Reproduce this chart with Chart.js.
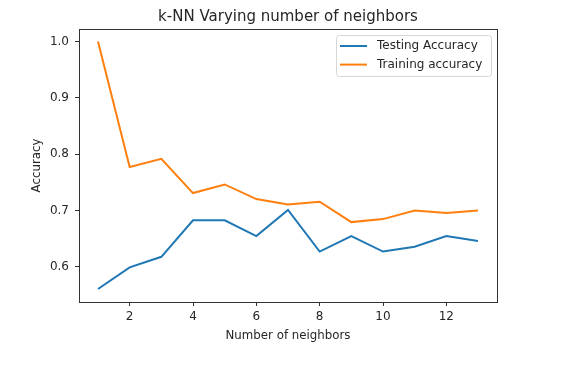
<!DOCTYPE html>
<html>
<head>
<meta charset="utf-8">
<script src="https://cdn.jsdelivr.net/npm/chart.js@4/dist/chart.umd.min.js"></script>
<style>
  html, body { margin: 0; padding: 0; background: #fff; }
  #wrap { width: 570px; height: 368px; }
</style>
</head>
<body>
<div id="wrap"><canvas id="knnChart" width="570" height="368"></canvas></div>
<script>
const neighbors = [1, 2, 3, 4, 5, 6, 7, 8, 9, 10, 11, 12, 13];
const testAcc = [0.5605, 0.5990, 0.6177, 0.6825, 0.6825, 0.6544, 0.7010, 0.6270, 0.6544, 0.6270, 0.6357, 0.6544, 0.6456];
const trainAcc = [1.0, 0.7770, 0.7917, 0.7308, 0.7461, 0.7202, 0.7106, 0.7154, 0.6793, 0.6846, 0.7000, 0.6953, 0.7000];
const xTicks = [2, 4, 6, 8, 10, 12];
const yTicks = [0.6, 0.7, 0.8, 0.9, 1.0];

const FONT = "'DejaVu Sans', sans-serif";
const TEXT = "#262626";

// spines, title and the in-axes legend
const frame = {
  id: "frame",
  afterDraw(chart) {
    const ctx = chart.ctx;
    const a = chart.chartArea;
    ctx.save();
    ctx.strokeStyle = "#333";
    ctx.lineWidth = 1;
    ctx.strokeRect(Math.round(a.left) + 0.5, Math.round(a.top) + 0.5,
      Math.round(a.right - a.left), Math.round(a.bottom - a.top));

    ctx.fillStyle = TEXT;
    ctx.font = "15px " + FONT;
    ctx.textAlign = "center";
    ctx.textBaseline = "middle";
    ctx.fillText("k-NN Varying number of neighbors", (a.left + a.right) / 2, 17);

    // legend
    const bx = 336, by = 35, bw = 155, bh = 41;
    ctx.fillStyle = "rgba(255,255,255,0.8)";
    ctx.strokeStyle = "#d6d6d6";
    ctx.beginPath();
    ctx.roundRect(bx + 0.5, by + 0.5, bw, bh, 3);
    ctx.fill();
    ctx.stroke();
    ctx.font = "12px " + FONT;
    ctx.textAlign = "left";
    chart.data.datasets.forEach((ds, i) => {
      const y = by + 11 + i * 18.6;
      ctx.strokeStyle = ds.borderColor;
      ctx.lineWidth = 2;
      ctx.beginPath();
      ctx.moveTo(340, y);
      ctx.lineTo(367, y);
      ctx.stroke();
      ctx.fillStyle = TEXT;
      ctx.fillText(ds.label, 377, y);
    });
    ctx.restore();
  }
};

new Chart(document.getElementById("knnChart"), {
  type: "line",
  data: {
    datasets: [
      {
        label: "Testing Accuracy",
        data: neighbors.map((k, i) => ({ x: k, y: testAcc[i] })),
        borderColor: "#1f77b4",
        borderWidth: 2,
        pointRadius: 0,
        tension: 0
      },
      {
        label: "Training accuracy",
        data: neighbors.map((k, i) => ({ x: k, y: trainAcc[i] })),
        borderColor: "#ff7f0e",
        borderWidth: 2,
        pointRadius: 0,
        tension: 0
      }
    ]
  },
  options: {
    responsive: false,
    animation: false,
    layout: { padding: { left: 30, right: 73, top: 29, bottom: 25 } },
    plugins: {
      legend: { display: false },
      title: { display: false },
      tooltip: { enabled: false }
    },
    scales: {
      x: {
        type: "linear",
        min: 0.4,
        max: 13.6,
        afterBuildTicks: s => { s.ticks = xTicks.map(v => ({ value: v })); },
        afterFit: s => { s.height = 41; },
        ticks: { color: TEXT, font: { family: FONT, size: 12 }, padding: 4, maxRotation: 0 },
        grid: { drawOnChartArea: false, drawTicks: true, tickLength: 4, color: "#333" },
        border: { display: true, color: "#333" },
        title: { display: true, text: "Number of neighbors", color: TEXT, font: { family: FONT, size: 11.8 }, padding: 0 }
      },
      y: {
        min: 0.5375,
        max: 1.022,
        afterBuildTicks: s => { s.ticks = yTicks.map(v => ({ value: v })); },
        afterFit: s => { s.width = 49; },
        ticks: { color: TEXT, font: { family: FONT, size: 12 }, padding: 6, callback: v => v.toFixed(1) },
        grid: { drawOnChartArea: false, drawTicks: true, tickLength: 4, color: "#333" },
        border: { display: true, color: "#333" },
        title: { display: true, text: "Accuracy", color: TEXT, font: { family: FONT, size: 11.8 }, padding: 0 }
      }
    }
  },
  plugins: [frame]
});
</script>
</body>
</html>
